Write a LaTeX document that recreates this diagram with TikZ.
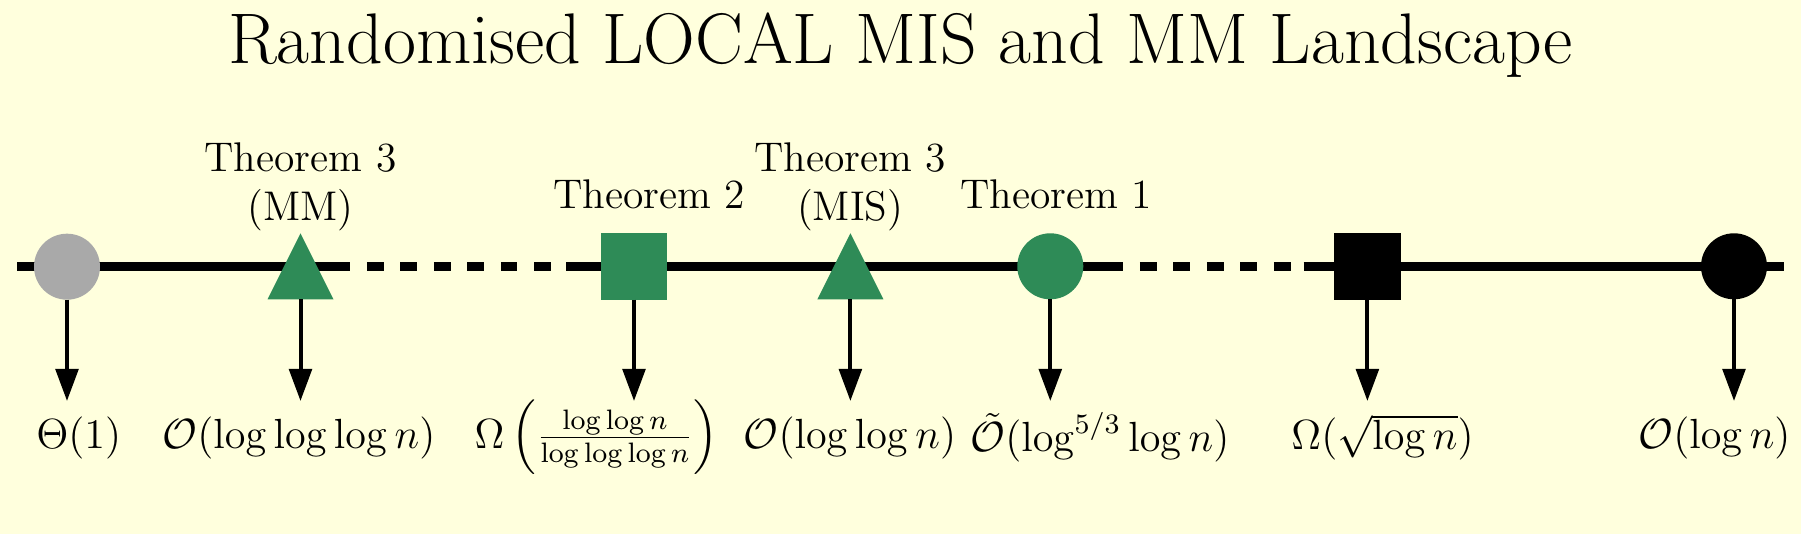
\documentclass[tikz,border=0pt]{standalone}
\usepackage{amsmath,amssymb}
\usepackage{tikz}
\usetikzlibrary{arrows.meta,shapes.geometric,positioning,calc}
\definecolor{paper}{RGB}{255,255,221}
\definecolor{thmgreen}{RGB}{46,139,87}
\definecolor{trivgrey}{RGB}{169,169,169}

\begin{document}
\begin{tikzpicture}[x=0.1mm,y=-0.1mm,font=\fontsize{11.8}{14}\selectfont]

\tikzset{dotmark/.style={shape=circle,minimum size=6.6mm,inner sep=0pt,outer sep=0pt},
boxmark/.style={shape=rectangle,minimum size=6.67mm,inner sep=0pt,outer sep=0pt},
tipmark/.style={shape=isosceles triangle,shape border rotate=90,isosceles triangle stretches,minimum width=6.6mm,minimum height=6.6mm,inner sep=0pt,outer sep=0pt,anchor=apex},
thmlabel/.style={align=center,anchor=north,inner sep=0pt},
boundlabel/.style={inner sep=0pt},
axisline/.style={line width=0.85mm},
gapline/.style={line width=0.85mm,dash pattern=on 1.66mm off 1.69mm,dash phase=1.66mm},
arr/.style={line width=0.4mm,-{Triangle[length=3.2mm,width=2.25mm]}}}

% Paper
\fill[paper] (0,0) rectangle (1801,534);
\useasboundingbox (0,0) rectangle (1801,534);

% Title
\node[font=\fontsize{20.4}{24}\selectfont,anchor=base] (title) at (900.5,64) {Randomised LOCAL MIS and MM Landscape};

% Axis: solid, dashed, solid, dashed, solid
\coordinate (l0) at (17,266.7);
\coordinate (l1) at (350,266.7);
\coordinate (l2) at (566,266.7);
\coordinate (l3) at (1123,266.7);
\coordinate (l4) at (1303.6,266.7);
\coordinate (l5) at (1784,266.7);
\draw[axisline] (l0) -- (l1);
\draw[gapline] (l1) -- (l2);
\draw[axisline] (l2) -- (l3);
\draw[gapline] (l3) -- (l4);
\draw[axisline] (l4) -- (l5);

% Markers
\node[dotmark,fill=trivgrey] (m1) at (67,266.7) {};
\node[tipmark,fill=thmgreen] (m2) at (300.5,233.3) {};
\node[boxmark,fill=thmgreen] (m3) at (634,266.3) {};
\node[tipmark,fill=thmgreen] (m4) at (850.4,233.3) {};
\node[dotmark,fill=thmgreen] (m5) at (1050.3,266.3) {};
\node[boxmark,fill=black] (m6) at (1367.4,266.3) {};
\node[dotmark,fill=black] (m7) at (1734,266.3) {};

% Theorem labels
\node[thmlabel] (t2) at (300.5,142) {Theorem 3\\(MM)};
\node[thmlabel] (t3) at (649,179) {Theorem 2};
\node[thmlabel] (t4) at (850,142) {Theorem 3\\(MIS)};
\node[thmlabel] (t5) at (1056,179) {Theorem 1};

% Round complexities
\node[boundlabel] (b1) at (78.8,437.5) {$\Theta(1)$};
\node[boundlabel] (b2) at (299,437.5) {$\mathcal{O}(\log\log\log n)$};
\node[boundlabel] (b3) at (596.5,437.5) {$\Omega\left(\frac{\log\log n}{\log\log\log n}\right)$};
\node[boundlabel] (b4) at (850,437.5) {$\mathcal{O}(\log\log n)$};
\node[boundlabel] (b5) at (1100,437.5) {$\tilde{\mathcal{O}}(\log^{5/3}\log n)$};
\node[boundlabel] (b6) at (1382.5,437.5) {$\Omega(\sqrt{\log n})$};
\node[boundlabel] (b7) at (1714.6,437.5) {$\mathcal{O}(\log n)$};

% Arrows down to the bounds
\coordinate (tips) at (0,401);
\foreach \m in {m1,m2,m3,m4,m5,m6,m7} \draw[arr] (\m.south) -- (\m.south |- tips);

\end{tikzpicture}
\end{document}
